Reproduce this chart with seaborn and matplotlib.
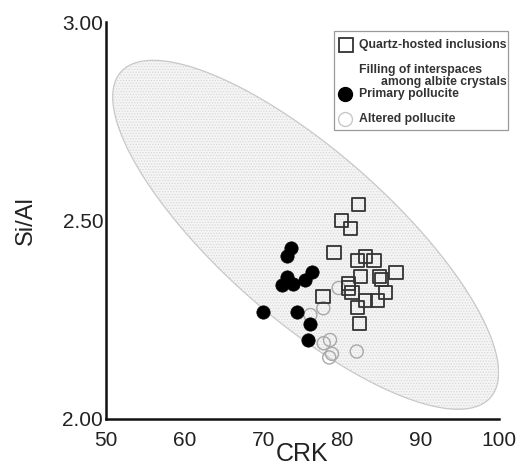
import numpy as np
import pandas as pd
import matplotlib
matplotlib.use("Agg")
import matplotlib.pyplot as plt
from matplotlib.lines import Line2D
from matplotlib.patches import Rectangle
from matplotlib.ticker import MultipleLocator, FormatStrFormatter
import seaborn as sns

# ---------------- data ----------------
quartz_crk = [82.1, 80.0, 81.1, 79.0, 82.0, 83.0, 84.1, 82.4, 84.8, 85.1,
              86.9, 80.9, 80.9, 81.3, 85.6, 77.6, 83.0, 84.5, 82.0, 82.3]
quartz_sial = [2.540, 2.499, 2.479, 2.419, 2.400, 2.409, 2.400, 2.359, 2.359, 2.351,
               2.369, 2.341, 2.330, 2.318, 2.318, 2.308, 2.299, 2.299, 2.280, 2.240]

primary_crk = [73.5, 73.0, 73.0, 72.35, 73.8, 75.3, 76.2, 70.0, 74.3, 75.95, 75.75]
primary_sial = [2.430, 2.411, 2.358, 2.338, 2.340, 2.350, 2.370, 2.270, 2.270, 2.239, 2.199]

altered_crk = [79.6, 77.65, 76.0, 77.7, 78.5, 78.4, 78.75, 81.9]
altered_sial = [2.330, 2.279, 2.262, 2.191, 2.199, 2.155, 2.164, 2.170]

# field ellipse (centre, half-extents, correlation)
ellipse_center = (75.4, 2.464)
ellipse_half_x = 24.55
ellipse_half_y = 0.4395
ellipse_corr = -0.79

legend_labels = ["Quartz-hosted inclusions",
                 "Filling of interspaces",
                 "among albite crystals",
                 "Primary pollucite",
                 "Altered pollucite"]

x_label = "CRK"
y_label = "Si/Al"

# ---------------- figure ----------------
sns.set_style("white")
plt.rcParams["font.family"] = ["Liberation Sans", "DejaVu Sans"]
plt.rcParams["hatch.linewidth"] = 0.6

W, H = 529, 472
fig = plt.figure(figsize=(W / 100, H / 100), dpi=100)
ax = fig.add_axes([106 / W, 1 - 419 / H, 393 / W, 397 / H])

# ellipse outline from centre / covariance
cov = np.array([[ellipse_half_x ** 2, ellipse_corr * ellipse_half_x * ellipse_half_y],
                [ellipse_corr * ellipse_half_x * ellipse_half_y, ellipse_half_y ** 2]])
L = np.linalg.cholesky(cov)
t = np.linspace(0, 2 * np.pi, 400)
pts = np.array(ellipse_center)[:, None] + L @ np.vstack([np.cos(t), np.sin(t)])
ax.fill(pts[0], pts[1], facecolor="#f5f5f5", edgecolor="none", zorder=0)
ax.fill(pts[0], pts[1], facecolor="none", edgecolor="#d8d8d8", hatch="......",
        linewidth=0, zorder=0.5)
ax.plot(pts[0], pts[1], color="#c8c8c8", linewidth=0.9, zorder=0.6)

df_q = pd.DataFrame({"CRK": quartz_crk, "SiAl": quartz_sial})
df_p = pd.DataFrame({"CRK": primary_crk, "SiAl": primary_sial})
df_a = pd.DataFrame({"CRK": altered_crk, "SiAl": altered_sial})

sns.scatterplot(data=df_a, x="CRK", y="SiAl", ax=ax, marker="o", s=88,
                facecolor="none", edgecolor="#a8a8a8", linewidth=1.0, zorder=2)
sns.scatterplot(data=df_q, x="CRK", y="SiAl", ax=ax, marker="s", s=90,
                facecolor="none", edgecolor="#333333", linewidth=1.3, zorder=3)
sns.scatterplot(data=df_p, x="CRK", y="SiAl", ax=ax, marker="o", s=92,
                color="black", edgecolor="black", linewidth=0.5, zorder=4)

ax.set_xlim(50, 100)
ax.set_ylim(2.0, 3.0)
ax.xaxis.set_major_locator(MultipleLocator(10))
ax.xaxis.set_minor_locator(MultipleLocator(2))
ax.yaxis.set_major_locator(MultipleLocator(0.5))
ax.yaxis.set_minor_locator(MultipleLocator(0.1))
ax.yaxis.set_major_formatter(FormatStrFormatter("%.2f"))

for s in ["top", "right"]:
    ax.spines[s].set_visible(False)
for s in ["left", "bottom"]:
    ax.spines[s].set_linewidth(1.8)
    ax.spines[s].set_color("#111111")

ax.tick_params(axis="both", which="major", direction="in", length=8, width=1.6,
               color="#111111", labelsize=15, labelcolor="#222222")
ax.tick_params(axis="both", which="minor", direction="in", length=4.3, width=1.4,
               color="#111111")
ax.tick_params(axis="x", which="major", pad=9)
ax.tick_params(axis="y", which="major", pad=2)

ax.set_xlabel(x_label, fontsize=18, color="#222222", labelpad=0)
ax.set_ylabel(y_label, fontsize=17, color="#222222", labelpad=12)
ax.xaxis.set_label_coords(0.5, -0.058)
ax.yaxis.set_label_coords(-0.176, 0.5)

# ---------------- legend (drawn in figure pixel space) ----------------
def fx(px):
    return px / W

def fy(py):
    return 1 - py / H

fig.patches.append(Rectangle((fx(334), fy(130)), fx(508) - fx(334), fy(31) - fy(130),
                             transform=fig.transFigure, facecolor="white",
                             edgecolor="#9a9a9a", linewidth=0.9, zorder=5))
fig.lines.append(Line2D([fx(346)], [fy(45)], transform=fig.transFigure, marker="s",
                        markersize=10, markerfacecolor="none", markeredgecolor="#333333",
                        markeredgewidth=1.3, linestyle="none", zorder=6))
fig.lines.append(Line2D([fx(345)], [fy(94)], transform=fig.transFigure, marker="o",
                        markersize=10, markerfacecolor="black", markeredgecolor="black",
                        linestyle="none", zorder=6))
fig.lines.append(Line2D([fx(345)], [fy(119)], transform=fig.transFigure, marker="o",
                        markersize=10, markerfacecolor="none", markeredgecolor="#c8c8c8",
                        markeredgewidth=1.0, linestyle="none", zorder=6))

leg_pos = [(359, 45), (359, 70), (381, 82), (359, 94), (359, 119)]
for lab, (px, py) in zip(legend_labels, leg_pos):
    fig.text(fx(px), fy(py), lab, fontsize=8.8, fontweight="bold", color="#333333",
             ha="left", va="center", zorder=7)

fig.savefig("out.png", dpi=100)
